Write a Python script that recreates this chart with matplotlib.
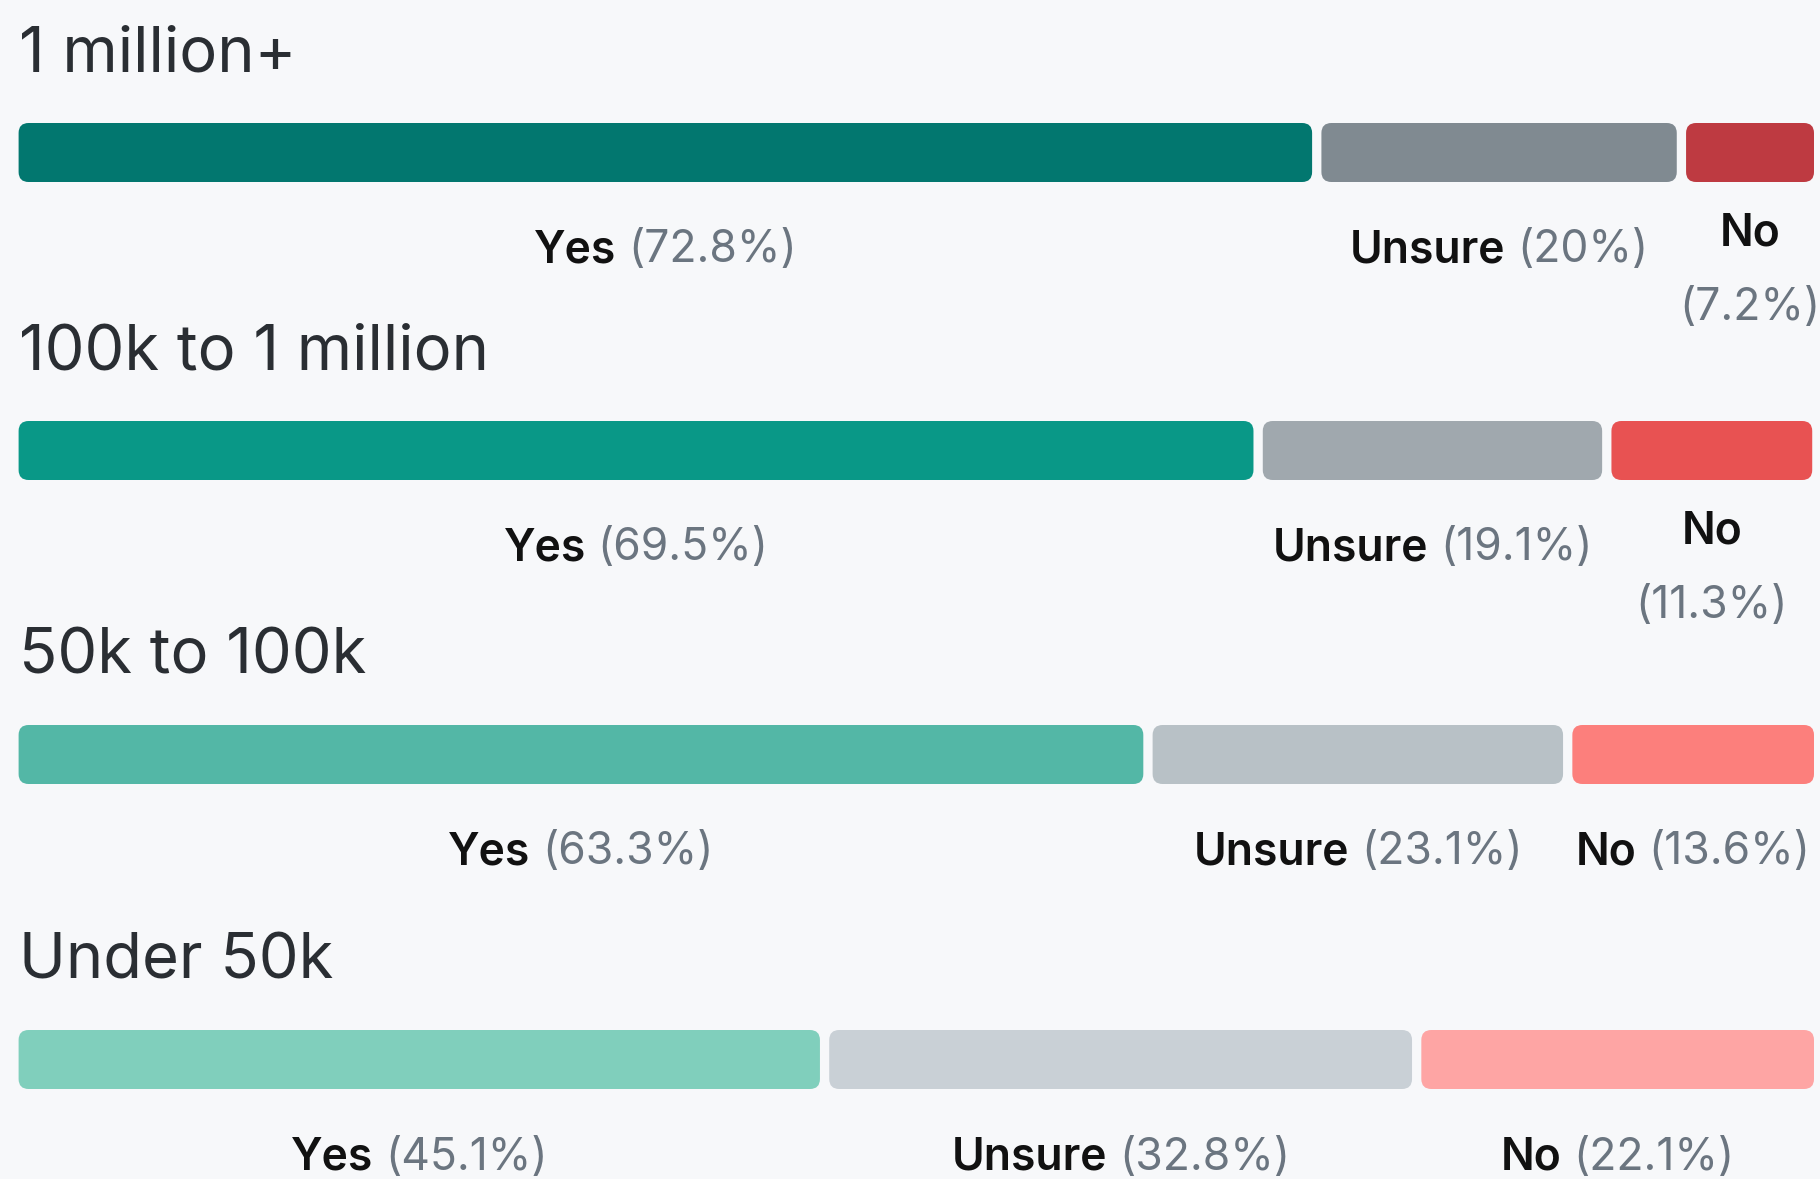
import matplotlib
matplotlib.use("Agg")
import matplotlib.pyplot as plt
from matplotlib.patches import FancyBboxPatch

# ---- data ----
groups = ["1 million+", "100k to 1 million", "50k to 100k", "Under 50k"]
answers = ["Yes", "Unsure", "No"]
yes_pct = [72.8, 69.5, 63.3, 45.1]
unsure_pct = [20.0, 19.1, 23.1, 32.8]
no_pct = [7.2, 11.3, 13.6, 22.1]
pct_labels = [["72.8%", "20%", "7.2%"],
              ["69.5%", "19.1%", "11.3%"],
              ["63.3%", "23.1%", "13.6%"],
              ["45.1%", "32.8%", "22.1%"]]
yes_colors = ["#02776f", "#099887", "#53b7a6", "#80cfbc"]
unsure_colors = ["#808a91", "#a0a8ae", "#b8c1c6", "#c9d0d6"]
no_colors = ["#be3a41", "#e85252", "#fc7f7c", "#fea5a4"]

# ---- layout ----
W, H = 1820, 1179
FONT = "Inter"
BG = "#f7f8fa"
fig = plt.figure(figsize=(W / 100, H / 100), dpi=100, facecolor=BG)
ax = fig.add_axes([0, 0, 1, 1])
ax.set_xlim(0, W)
ax.set_ylim(H, 0)
ax.axis("off")
ax.set_facecolor(BG)

left, right, gap = 18.6, 1814.0, 9.3
bar_h = 59
title_y = [51, 349, 653, 958]
renderer = fig.canvas.get_renderer()


def text_width(t):
    bb = t.get_window_extent(renderer=renderer)
    return bb.width


def draw_label(cx, y, name, pct, seg_w):
    tb = ax.text(0, y, name, fontsize=32, fontweight="semibold", family=FONT,
                 color="#111111", ha="left", va="center")
    tp = ax.text(0, y, "(" + pct + ")", fontsize=32, family=FONT,
                 color="#6b7580", ha="left", va="center")
    sp = 12
    wb, wp = text_width(tb), text_width(tp)
    total = wb + sp + wp
    if total <= seg_w + 8:
        x0 = cx - total / 2
        tb.set_x(x0)
        tp.set_x(x0 + wb + sp)
    else:
        tb.set_ha("center"); tb.set_x(cx); tb.set_y(y - 17)
        tp.set_ha("center"); tp.set_x(cx); tp.set_y(y + 58)


for i, g in enumerate(groups):
    ty = title_y[i]
    ax.text(left, ty + 4, g, fontsize=45.5, family=FONT, color="#2a2e33",
            ha="left", va="center")
    bar_top = ty + 72
    label_y = bar_top + bar_h / 2 + 98
    vals = [yes_pct[i], unsure_pct[i], no_pct[i]]
    cols = [yes_colors[i], unsure_colors[i], no_colors[i]]
    usable = (right - left) - gap * (len(vals) - 1)
    x = left
    for j, v in enumerate(vals):
        w = usable * v / 100.0
        r = 10
        p = FancyBboxPatch((x + r, bar_top + r), w - 2 * r, bar_h - 2 * r,
                           boxstyle=f"round,pad={r}", linewidth=0,
                           facecolor=cols[j])
        ax.add_patch(p)
        draw_label(x + w / 2, label_y, answers[j], pct_labels[i][j], w)
        x += w + gap

fig.savefig("out.png", dpi=100, facecolor=BG)
